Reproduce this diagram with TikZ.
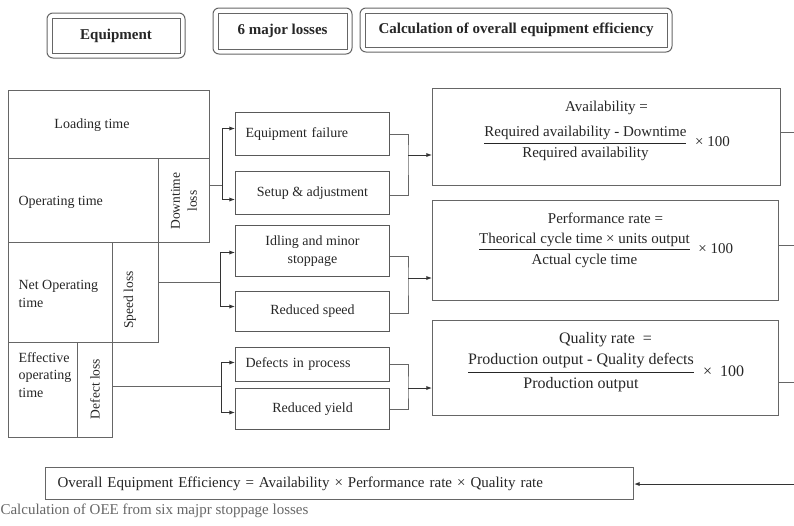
\documentclass[tikz,border=0pt]{standalone}
\usepackage{fontspec}
\setmainfont{Liberation Serif}
\usepackage{amsmath}
\usetikzlibrary{positioning, calc, arrows.meta, fit}

\begin{document}
\begin{tikzpicture}[x=1pt, y=-1pt,
    every node/.style={font=\fontsize{14}{17.5}\selectfont, text=black!85},
    cell/.style={draw=black!60, line width=1pt, anchor=north west, inner sep=0pt},
    loss/.style={draw=black!65, line width=1pt, anchor=north west, minimum width=154pt, inner sep=0pt, align=center},
    formula/.style={draw=black!60, line width=1pt, anchor=north west, inner sep=0pt},
    formtext/.style={font=\fontsize{15}{18}\selectfont, align=center},
    hdr/.style={draw=black!60, line width=1pt, font=\fontsize{15}{18}\selectfont\bfseries, inner sep=0pt},
    hdrframe/.style={draw=black!60, line width=1pt, rounded corners=6pt, inner sep=4.5pt},
    link/.style={draw=black!60, line width=1pt},
    arr/.style={draw=black!80, line width=1pt, -{Latex[length=2mm]}}]
  \useasboundingbox (0,0) rectangle (794,525);
  \node[hdr, minimum width=128pt, minimum height=35pt] (equip) at (116,35.5) {Equipment};
  \node[hdrframe, fit=(equip)] (equipframe) {};
  \node[hdr, minimum width=129pt, minimum height=36pt] (losses) at (282.5,31) {6 major losses};
  \node[hdrframe, fit=(losses)] (lossesframe) {};
  \node[hdr, minimum width=302pt, minimum height=34pt] (calc) at (516,30) {Calculation of overall equipment efficiency};
  \node[hdrframe, fit=(calc)] (calcframe) {};

  \node[cell, minimum width=201pt, minimum height=68pt] (load) at (8,90) {};
  \node[cell, minimum width=150pt, minimum height=84pt] (oper) at (8,158) {};
  \node[cell, minimum width=51pt, minimum height=84pt] (dtloss) at (158,158) {};
  \node[cell, minimum width=104pt, minimum height=100pt] (netop) at (8,242) {};
  \node[cell, minimum width=46pt, minimum height=100pt] (spdloss) at (112,242) {};
  \node[cell, minimum width=69pt, minimum height=95pt] (effop) at (8,342) {};
  \node[cell, minimum width=35pt, minimum height=95pt] (dfloss) at (77,342) {};
  \node (loadtxt) at (92,125) {Loading time};
  \node[anchor=west] (opertxt) at (15,202) {Operating time};
  \node[anchor=west, align=left] (netoptxt) at (15,294) {Net Operating\\time};
  \node[anchor=west, align=left] (effoptxt) at (15,375) {Effective\\operating\\time};
  \node[rotate=90, align=center, font=\fontsize{13.5}{17}\selectfont] (dttxt) at (184,201) {Downtime\\loss};
  \node[rotate=90, font=\fontsize{13.5}{17}\selectfont] (spdtxt) at (130,300) {Speed loss};
  \node[rotate=90, font=\fontsize{13.5}{17}\selectfont] (dftxt) at (95,389) {Defect loss};

  \node[loss, minimum height=43pt, align=left, text width=134pt] (ef) at (235,112) {Equipment failure};
  \node[loss, minimum height=43pt] (sa) at (235,171) {Setup \& adjustment};
  \node[loss, minimum height=51pt] (im) at (235,225) {Idling and minor\\stoppage};
  \node[loss, minimum height=40pt] (rs) at (235,291) {Reduced speed};
  \node[loss, minimum height=34pt, align=left, text width=134pt] (dp) at (235,347) {Defects in process};
  \node[loss, minimum height=41pt] (ry) at (235,388) {Reduced yield};

  \node[formula, minimum width=348pt, minimum height=97pt] (avail) at (432,88) {};
  \node[formtext] (availtxt) at ([yshift=6pt]avail.center) {Availability =\\[11pt]
    $\dfrac{\text{Required availability - Downtime}\rule[-3pt]{0pt}{3pt}}{\rule{0pt}{13pt}\text{Required availability}}$ \ × 100};
  \node[formula, minimum width=346pt, minimum height=100pt] (perf) at (432,200) {};
  \node[formtext] (perftxt) at ([yshift=10pt]perf.center) {Performance rate =\\[8pt]
    $\dfrac{\text{Theorical cycle time × units output}\rule[-3pt]{0pt}{3pt}}{\rule{0pt}{13pt}\text{Actual cycle time}}$ \ × 100};
  \node[formula, minimum width=346pt, minimum height=95pt] (qual) at (432,320) {};
  \node[formtext, font=\fontsize{16}{19}\selectfont] (qualtxt) at ([yshift=6pt]qual.center) {Quality rate \ =\\[6pt]
    $\dfrac{\text{Production output - Quality defects}\rule[-3pt]{0pt}{3pt}}{\rule{0pt}{13pt}\text{Production output}}$ \ ×\ \ 100};

  \node[draw=black!60, line width=1pt, anchor=north west, minimum width=588pt, minimum height=32pt,
    text width=564pt, align=left, inner sep=0pt, font=\fontsize{15}{18}\selectfont] (oee) at (45,467)
    {Overall Equipment Efficiency = Availability × Performance rate × Quality rate};
  \node[anchor=west, text=black!60, font=\fontsize{15}{18}\selectfont] (caption) at (-3,511)
    {Calculation of OEE from six majpr stoppage losses};

  \coordinate (dtj) at (222,185);
  \draw[link] (dtloss.east |- dtj) -- (dtj);
  \draw[arr] (dtj) |- ([yshift=5.5pt]ef.west);
  \draw[arr] (dtj) |- ([yshift=-6.5pt]sa.west);
  \coordinate (spj) at (220,282);
  \draw[link] (spdloss.east |- spj) -- (spj);
  \draw[arr] (spj) |- ([yshift=-1.5pt]im.west);
  \draw[arr] (spj) |- ([yshift=5pt]rs.west);
  \coordinate (dfj) at (221,386);
  \draw[link] (dfloss.east |- dfj) -- (dfj);
  \draw[arr] (dfj) |- ([yshift=2pt]dp.west);
  \draw[arr] (dfj) |- ([yshift=-3.5pt]ry.west);

  \coordinate (avj) at (408,155);
  \draw[link] (ef.east) -| (avj) |- ([yshift=-2.5pt]sa.east);
  \draw[arr] (avj) -- (avail.west |- avj);
  \coordinate (pfj) at (408,278);
  \draw[link] ([yshift=-5.5pt]im.east) -| (pfj) |- ([yshift=-2pt]rs.east);
  \draw[arr] (pfj) -- (perf.west |- pfj);
  \coordinate (qlj) at (408,388);
  \draw[link] (dp.east) -| (qlj) |- (ry.east);
  \draw[arr] (qlj) -- (qual.west |- qlj);

  \coordinate (avout) at (794,132);
  \draw[link] (avail.east |- avout) -- (avout);
  \coordinate (pfout) at (794,245);
  \draw[link] (perf.east |- pfout) -- (pfout);
  \coordinate (qlout) at (794,382);
  \draw[link] (qual.east |- qlout) -- (qlout);
  \coordinate (oeein) at (794,484);
  \draw[arr] (oeein) -- (oee.east |- oeein);
\end{tikzpicture}
\end{document}
